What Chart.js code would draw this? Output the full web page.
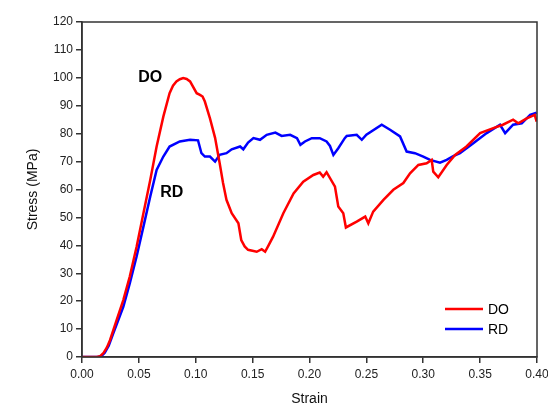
<!DOCTYPE html>
<html>
<head>
<meta charset="utf-8">
<script src="https://cdn.jsdelivr.net/npm/chart.js@4/dist/chart.umd.min.js"></script>
<style>
  html, body { margin: 0; padding: 0; background: #fff; }
  #wrap { width: 548px; height: 408px; }
</style>
</head>
<body>
<div id="wrap"><canvas id="chart"></canvas></div>
<script>
// values
const strainDO = [0, 0.013, 0.016, 0.019, 0.022, 0.0246, 0.0305, 0.0363, 0.042, 0.048, 0.054, 0.060, 0.0656, 0.0715,
  0.077, 0.080, 0.083, 0.086, 0.089, 0.092, 0.095, 0.1008, 0.1037, 0.106, 0.108, 0.1125, 0.117, 0.121, 0.124, 0.127,
  0.1316, 0.1375, 0.140, 0.143, 0.146, 0.1536, 0.158, 0.161, 0.164, 0.168, 0.177, 0.186, 0.1945, 0.2034, 0.209, 0.212,
  0.215, 0.2224, 0.2253, 0.2297, 0.232, 0.2415, 0.249, 0.2517, 0.256, 0.265, 0.2737, 0.2825, 0.2884, 0.2957, 0.303,
  0.3074, 0.3088, 0.3132, 0.3206, 0.328, 0.338, 0.350, 0.3616, 0.370, 0.379, 0.3835, 0.391, 0.398, 0.3997];
const stressDO = [0, 0, 0.3, 1.5, 3.5, 6, 13.3, 20.4, 28.8, 39.5, 51.5, 63.4, 75.4, 86.1,
  94.5, 97.2, 98.7, 99.5, 99.9, 99.6, 98.7, 94.5, 93.9, 93.3, 91.5, 85.5, 78.5, 69.5, 62.3, 56.3,
  51.5, 47.9, 41.9, 39.6, 38.4, 37.7, 38.6, 37.7, 40, 43.1, 51.5, 58.6, 62.8, 65.2, 66.1, 64.6,
  66.2, 61, 53.9, 51.5, 46.4, 48.5, 50.3, 47.9, 52.1, 56.3, 59.9, 62.3, 65.8, 68.8, 69.4,
  70.6, 66.4, 64.4, 68.8, 72.4, 75.4, 80.2, 82, 83.2, 85, 83.7, 85.5, 86.7, 84.3];

const strainRD = [0, 0.014, 0.017, 0.020, 0.0235, 0.0275, 0.0363, 0.042, 0.048, 0.054, 0.060, 0.0656, 0.0715, 0.077,
  0.086, 0.095, 0.102, 0.105, 0.108, 0.1125, 0.117, 0.121, 0.127, 0.1316, 0.139, 0.1418, 0.146, 0.1507, 0.1565, 0.1624,
  0.170, 0.1755, 0.183, 0.189, 0.192, 0.196, 0.202, 0.209, 0.215, 0.218, 0.221, 0.2253, 0.231, 0.2327, 0.2415, 0.246,
  0.250, 0.2635, 0.2708, 0.2796, 0.2854, 0.2927, 0.300, 0.306, 0.3147, 0.3206, 0.3264, 0.3323, 0.344, 0.3558, 0.3675,
  0.372, 0.379, 0.3866, 0.394, 0.3997];
const stressRD = [0, 0, 0.3, 1.5, 4, 8.5, 18, 26.4, 36, 46.7, 57.5, 67, 71.8, 75.4,
  77.2, 77.8, 77.6, 73, 71.8, 71.8, 70, 72.4, 73, 74.4, 75.4, 74.4, 76.8, 78.4, 77.8, 79.6,
  80.4, 79.2, 79.6, 78.4, 76, 77.2, 78.4, 78.4, 77.2, 75.6, 72.4, 74.8, 78.4, 79.2, 79.6, 77.8,
  79.6, 83.2, 81.4, 79, 73.6, 73, 71.8, 70.6, 69.6, 70.6, 72, 73, 76.6, 80.2, 83.2,
  80.2, 83.2, 83.7, 86.7, 87.5];

const seriesNames = ['DO', 'RD'];
const seriesColors = ['#ff0000', '#0000ff'];
const xTicks = [0, 0.05, 0.10, 0.15, 0.20, 0.25, 0.30, 0.35, 0.40];

const toPoints = (xs, ys) => xs.map((x, i) => ({ x: x, y: ys[i] }));

// frame, curve labels and the legend inside the plot
const extras = {
  id: 'extras',
  afterDraw(chart) {
    const { ctx, chartArea: a, scales: { x, y } } = chart;
    ctx.save();
    ctx.strokeStyle = '#333';
    ctx.lineWidth = 1.5;
    ctx.strokeRect(a.left, a.top, a.right - a.left, a.bottom - a.top);

    ctx.fillStyle = '#000';
    ctx.font = 'bold 16px "Liberation Sans", Arial, sans-serif';
    ctx.textAlign = 'center';
    ctx.textBaseline = 'middle';
    ctx.fillText('DO', x.getPixelForValue(0.060), y.getPixelForValue(100));
    ctx.fillText('RD', x.getPixelForValue(0.079), y.getPixelForValue(59));

    ctx.font = '14px "Liberation Sans", Arial, sans-serif';
    ctx.textAlign = 'left';
    seriesNames.forEach((name, i) => {
      const ly = 309 + i * 20;
      ctx.strokeStyle = seriesColors[i];
      ctx.lineWidth = 2.5;
      ctx.beginPath();
      ctx.moveTo(445, ly);
      ctx.lineTo(483, ly);
      ctx.stroke();
      ctx.fillStyle = '#000';
      ctx.fillText(name, 488, ly + 1);
    });
    ctx.restore();
  }
};

new Chart(document.getElementById('chart'), {
  type: 'scatter',
  data: {
    datasets: [
      { label: seriesNames[0], data: toPoints(strainDO, stressDO), borderColor: seriesColors[0] },
      { label: seriesNames[1], data: toPoints(strainRD, stressRD), borderColor: seriesColors[1] }
    ].map(d => Object.assign(d, { showLine: true, pointRadius: 0, borderWidth: 2.5, tension: 0, fill: false }))
  },
  options: {
    responsive: true,
    maintainAspectRatio: false,
    animation: false,
    layout: { padding: { left: 25, right: 11, top: 22, bottom: 0 } },
    plugins: { legend: { display: false }, tooltip: { enabled: false } },
    scales: {
      x: {
        type: 'linear', min: 0, max: 0.40,
        afterBuildTicks: s => { s.ticks = xTicks.map(v => ({ value: v })); },
        afterFit: s => { s.height = 51; s.paddingLeft = 0; s.paddingRight = 0; },
        grid: { drawOnChartArea: false, drawTicks: true, tickLength: 6, color: '#333', lineWidth: 1.5 },
        border: { display: true, color: '#333', width: 1.5 },
        ticks: { color: '#222', font: { size: 12, family: '"Liberation Sans", Arial' }, padding: 4,
          maxRotation: 0, autoSkip: false, callback: v => v.toFixed(2) },
        title: { display: true, text: 'Strain', color: '#111', font: { size: 14, family: '"Liberation Sans", Arial' },
          padding: { top: 5, bottom: 0 } }
      },
      y: {
        min: 0, max: 120,
        afterFit: s => { s.width = 57; s.paddingTop = 0; s.paddingBottom = 0; },
        grid: { drawOnChartArea: false, drawTicks: true, tickLength: 6, color: '#333', lineWidth: 1.5 },
        border: { display: true, color: '#333', width: 1.5 },
        ticks: { stepSize: 10, color: '#222', font: { size: 12, family: '"Liberation Sans", Arial' }, padding: 3 },
        title: { display: true, text: 'Stress (MPa)', color: '#111', font: { size: 14, family: '"Liberation Sans", Arial' },
          padding: { top: 0, bottom: 0 } }
      }
    }
  },
  plugins: [extras]
});
</script>
</body>
</html>
